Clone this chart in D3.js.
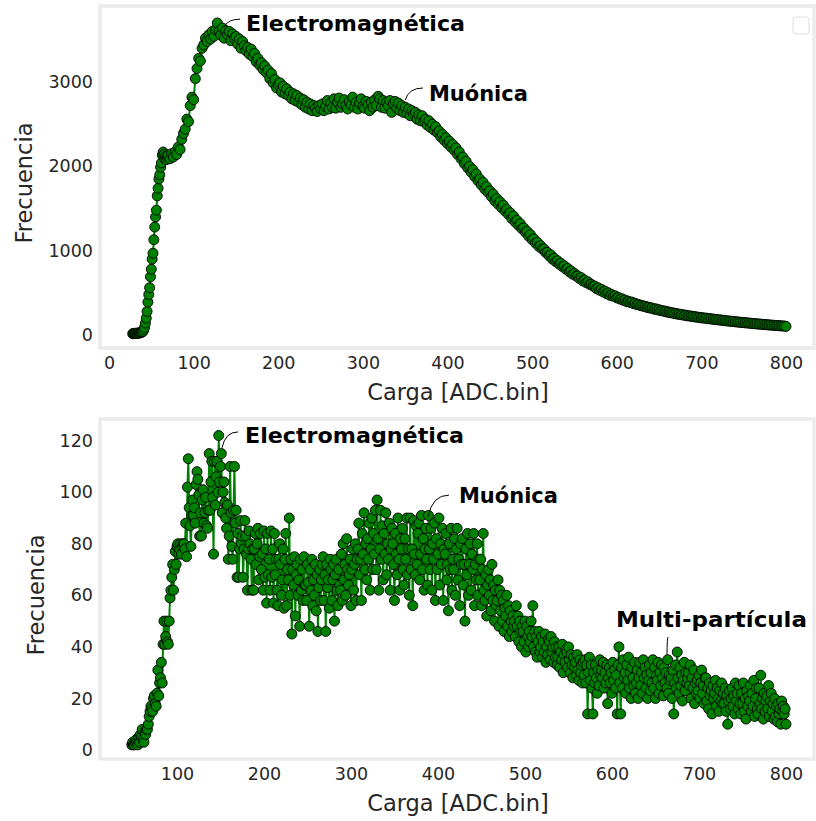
<!DOCTYPE html>
<html>
<head>
<meta charset="utf-8">
<script src="https://cdn.jsdelivr.net/npm/d3@7"></script>
<style>
  html, body { margin: 0; padding: 0; background: #fff; }
  svg { display: block; }
</style>
</head>
<body>
<svg id="chart" width="816" height="821"></svg>
<script>
// ---------------- DATA ----------------
// Top panel: bins 28..69 step 1, then 70..800 step 2
const topBins = d3.range(28, 70, 1).concat(d3.range(70, 801, 2));
const topFreq = [
  15,18,20,20,18,22,20,25,22,28, 30,35,40,60,90,140,200,280,390,480,
  560,690,780,900,970,1130,1280,1400,1480,1650, 1740,1850,1900,1990,2040,2130,2170,2140,2090,2120,
  2080,2110,
  // 70..
  2130,2090,2150,2110,2170,2140,2230,2200,2320,2390,
  2440,2560,2530,2720,2820,2790,3040,3160,3280,3250,
  3400,3440,3520,3480,3560,3510,3600,3540,3620,3700,
  3600,3560,3640,3520,3610,3560,3600,3490,3570,3520,
  3540,3450,3510,3400,3480,3430,3370,3410,3330,3390,
  3300,3340,3240,3280,3200,3230,3150,3190,3110,3140,
  3040,3100,2990,3030,2930,2970,2990,2880,2950,2860,
  2920,2840,2880,2800,2860,2780,2840,2760,2810,2730,
  2790,2700,2760,2680,2740,2660,2720,2690,2650,2720,
  2680,2740,2660,2710,2780,2680,2750,2700,2800,2690,
  2760,2810,2700,2740,2790,2720,2680,2770,2730,2820,
  2700,2760,2680,2750,2800,2710,2690,2770,2730,2660,
  2760,2700,2790,2720,2830,2800,2700,2780,2690,2760,
  2720,2780,2640,2740,2770,2690,2750,2660,2720,2640,
  2700,2630,2680,2600,2660,2620,2640,2560,2610,2540,
  2600,2530,2560,2490,2540,2460,2500,2430,2470,2400,
  2420,2350,2380,2310,2340,2270,2300,2230,2260,2190,
  2220,2140,2170,2090,2110,2030,2060,1980,2000,1930,
  1960,1880,1910,1830,1850,1780,1810,1730,1760,1690,
  1710,1640,1670,1590,1620,1550,1580,1510,1540,1470,
  1490,1430,1450,1380,1410,1340,1360,1300,1320,1260,
  1270,1220,1230,1170,1190,1130,1140,1090,1100,1050,
  1060,1020,1020,980,980,940,950,900,910,870,
  880,840,850,810,820,780,790,750,760,720,
  730,700,700,670,680,640,650,620,630,600,
  600,580,580,550,560,530,540,510,520,490,
  500,470,480,460,465,440,445,425,430,410,
  415,395,400,385,390,370,375,360,362,348,
  350,338,340,326,330,318,320,306,310,298,
  300,288,290,280,282,270,272,262,264,254,
  256,246,248,240,242,232,235,226,228,220,
  222,214,216,208,210,202,205,198,200,192,
  195,188,190,183,185,178,180,173,175,168,
  170,164,166,160,162,156,157,151,153,147,
  149,143,145,140,141,136,137,132,133,128,
  130,125,126,122,123,118,119,115,116,112,
  113,109,110,106,107,102
];

// Bottom panel: bins 48..800 step 1
const botBins = d3.range(48, 801, 1);
const botFreq = [
  2,3,2,2,3,4,3,2,5,3,
  6,5,8,4,3,7,6,8,8,10,
  13,15,17,16,15,20,21,18,17,22,
  31,21,26,28,34,26,41,50,41,44,
  50,42,41,50,59,62,67,72,62,70,
  77,72,79,80,76,78,80,76,79,80,
  80,78,88,75,102,113,94,87,79,91,
  97,91,94,88,103,108,105,99,83,92,
  83,97,101,88,92,98,87,86,93,115,
  93,104,112,98,76,112,95,106,112,100,
  122,104,110,115,92,100,104,96,90,86,
  95,74,83,110,92,79,74,93,110,88,
  93,67,84,67,78,89,80,83,67,78,
  89,83,76,62,78,85,80,74,62,78,
  62,78,84,72,80,86,66,75,84,70,
  76,62,85,67,78,57,84,68,74,62,
  85,67,78,57,84,68,74,62,56,74,
  80,72,60,66,78,55,74,84,56,70,
  66,90,60,74,45,70,64,75,52,68,
  72,60,66,48,74,62,70,58,75,64,
  64,58,72,65,48,70,62,74,56,66,
  60,72,54,68,46,63,70,58,66,72,
  75,58,68,46,72,63,66,55,74,70,
  58,66,72,50,68,74,62,56,70,64,
  62,76,58,80,66,72,60,82,70,64,
  68,74,56,70,78,62,72,80,58,74,
  78,88,68,74,58,84,76,92,70,80,
  66,82,74,88,62,78,90,70,84,76,
  93,70,97,82,62,78,93,74,87,66,
  84,76,92,68,80,74,88,62,78,86,
  80,72,58,84,76,68,90,74,62,82,
  78,86,70,64,82,74,90,68,78,60,
  90,70,78,56,89,76,68,87,72,84,
  88,66,76,91,70,82,62,78,86,74,
  64,91,78,70,86,62,80,74,88,58,
  82,70,76,90,64,80,72,86,58,78,
  76,84,66,72,54,80,70,86,62,74,
  70,82,60,78,86,66,74,56,80,72,
  82,64,72,50,78,68,84,60,72,80,
  62,76,70,84,56,72,66,80,60,74,
  66,74,56,70,84,62,58,68,52,64,
  70,60,66,54,72,58,64,50,62,56,
  58,66,48,62,54,60,50,58,46,55,
  52,60,48,56,44,54,50,46,52,48,
  50,44,56,48,52,42,50,46,40,48,
  46,42,50,38,48,44,40,46,42,50,
  44,56,40,46,38,44,36,42,46,38,
  40,44,36,42,38,45,34,40,37,43,
  42,35,44,38,40,34,42,36,40,33,
  36,40,32,38,35,41,30,37,34,39,
  38,32,40,35,30,37,33,28,36,32,
  34,29,37,31,27,35,30,33,26,34,
  29,35,26,33,14,30,36,27,33,24,
  14,30,26,33,28,22,31,25,35,29,
  31,28,34,24,30,26,33,18,28,32,
  26,30,22,34,27,31,24,29,14,33,
  40,26,14,32,24,35,28,30,22,33,
  27,36,24,30,20,32,28,25,34,22,
  26,31,20,28,34,25,30,22,35,28,
  32,24,29,20,27,33,23,30,26,35,
  24,32,20,29,27,34,22,30,25,33,
  28,21,32,26,30,24,35,22,29,27,
  28,20,31,14,26,33,24,38,28,22,
  32,25,29,19,27,34,23,30,26,28,
  30,25,33,20,28,24,31,18,26,22,
  27,23,29,20,26,31,22,25,18,28,
  28,19,24,16,26,21,23,14,25,20,
  22,27,17,24,20,15,23,19,26,18,
  22,18,24,15,21,10,19,23,16,20,
  24,17,21,14,26,19,22,16,25,18,
  14,22,18,26,15,20,12,23,17,21,
  19,25,15,22,17,27,13,20,24,16,
  14,24,18,29,16,20,12,22,15,19,
  21,16,25,13,19,22,15,18,12,20,
  13,17,11,18,14,16,10,19,15,17,
  14,16,10
];

const topXTicks = [0, 100, 200, 300, 400, 500, 600, 700, 800];
const topYTicks = [0, 1000, 2000, 3000];
const botXTicks = [100, 200, 300, 400, 500, 600, 700, 800];
const botYTicks = [0, 20, 40, 60, 80, 100, 120];

const xTitle = "Carga [ADC.bin]";
const yTitle = "Frecuencia";

// annotations: [label, tipX, tipY, endX, endY, textX, textY] in data units
const topNotes = [
  ["Electromagnética", 136, 3650, 155, 3745, 162, 3605],
  ["Muónica", 350, 2787, 371, 2929, 378, 2775]
];
const botNotes = [
  ["Electromagnética", 151.7, 117.2, 170.1, 123.4, 178.2, 119.1],
  ["Muónica", 388.5, 90.4, 412.6, 98.9, 424.1, 95.8],
  ["Multi-partícula", 663.2, 36.9, 664.4, 43.8, 604.6, 47.7]
];
const noteWidths = {"Electromagnética": 219, "Muónica": 99, "Multi-partícula": 191};

// ---------------- DRAW ----------------
const svg = d3.select("#chart");
const GREEN = "#008000";
const TXT = "#262626";

function panel(o) {
  const g = svg.append("g");
  g.append("rect")
    .attr("x", o.frame[0]).attr("y", o.frame[1])
    .attr("width", o.frame[2] - o.frame[0]).attr("height", o.frame[3] - o.frame[1])
    .attr("fill", "#fff").attr("stroke", "#ebebeb").attr("stroke-width", 3.5);

  const x = d3.scaleLinear().domain(o.xDom).range(o.xRange);
  const y = d3.scaleLinear().domain(o.yDom).range(o.yRange);

  const xa = g.append("g").attr("transform", `translate(0,${o.xAxisY})`)
    .call(d3.axisBottom(x).tickValues(o.xTicks).tickSize(0).tickPadding(0).tickFormat(d3.format("d")));
  xa.select(".domain").remove();
  xa.selectAll("text").attr("font-family", "DejaVu Sans").attr("font-size", 17.5).attr("fill", TXT).attr("dy", "0.71em");

  const ya = g.append("g").attr("transform", `translate(${o.yAxisX},0)`)
    .call(d3.axisLeft(y).tickValues(o.yTicks).tickSize(0).tickPadding(0).tickFormat(d3.format("d")));
  ya.select(".domain").remove();
  ya.selectAll("text").attr("font-family", "DejaVu Sans").attr("font-size", 17.5).attr("fill", TXT);

  g.append("text").attr("x", o.xTitlePos[0]).attr("y", o.xTitlePos[1])
    .attr("text-anchor", "middle").attr("font-family", "DejaVu Sans").attr("font-size", 22.5)
    .attr("fill", TXT).text(xTitle);
  g.append("text").attr("transform", `translate(${o.yTitlePos[0]},${o.yTitlePos[1]}) rotate(-90)`)
    .attr("text-anchor", "middle").attr("font-family", "DejaVu Sans").attr("font-size", 22.5)
    .attr("fill", TXT).text(yTitle);

  const pts = o.bins.map((b, i) => [b, o.vals[i]]);
  g.append("path").datum(pts)
    .attr("d", d3.line().x(d => x(d[0])).y(d => y(d[1])))
    .attr("fill", "none").attr("stroke", GREEN).attr("stroke-width", 2);
  g.append("g").selectAll("circle").data(pts).join("circle")
    .attr("cx", d => x(d[0])).attr("cy", d => y(d[1])).attr("r", 5)
    .attr("fill", GREEN).attr("stroke", "#000").attr("stroke-width", 0.9);

  o.notes.forEach(n => {
    const [lab, tx, ty, ex, ey, lx, ly] = n;
    const x0 = x(tx), y0 = y(ty), x1 = x(ex), y1 = y(ey);
    const cx = x0 + (x1 - x0) * 0.2, cy = y1;
    g.append("path").attr("d", `M${x0},${y0} Q${cx},${cy} ${x1},${y1}`)
      .attr("fill", "none").attr("stroke", "#000").attr("stroke-width", 1);
    g.append("text").attr("x", x(lx)).attr("y", y(ly))
      .attr("font-family", "'Comic Sans MS','Humor Sans','DejaVu Sans'").attr("font-weight", "bold")
      .attr("font-size", 22).attr("fill", "#000")
      .attr("textLength", noteWidths[lab]).attr("lengthAdjust", "spacingAndGlyphs")
      .text(lab);
  });
  return g;
}

panel({
  frame: [100, 6, 814, 348],
  xDom: [0, 800], xRange: [109, 786],
  yDom: [0, 3000], yRange: [335, 82],
  xAxisY: 357, yAxisX: 93,
  xTicks: topXTicks, yTicks: topYTicks,
  xTitlePos: [458, 400], yTitlePos: [32, 183],
  bins: topBins, vals: topFreq, notes: topNotes
});

panel({
  frame: [100, 419, 814, 759],
  xDom: [100, 800], xRange: [177, 786],
  yDom: [0, 120], yRange: [750, 440.7],
  xAxisY: 768, yAxisX: 93,
  xTicks: botXTicks, yTicks: botYTicks,
  xTitlePos: [458, 811], yTitlePos: [44, 595],
  bins: botBins, vals: botFreq, notes: botNotes
});

svg.append("rect").attr("x", 793).attr("y", 17).attr("width", 16).attr("height", 17)
  .attr("rx", 3).attr("fill", "#fff").attr("stroke", "#dcdcdc").attr("stroke-width", 1);
</script>
</body>
</html>
